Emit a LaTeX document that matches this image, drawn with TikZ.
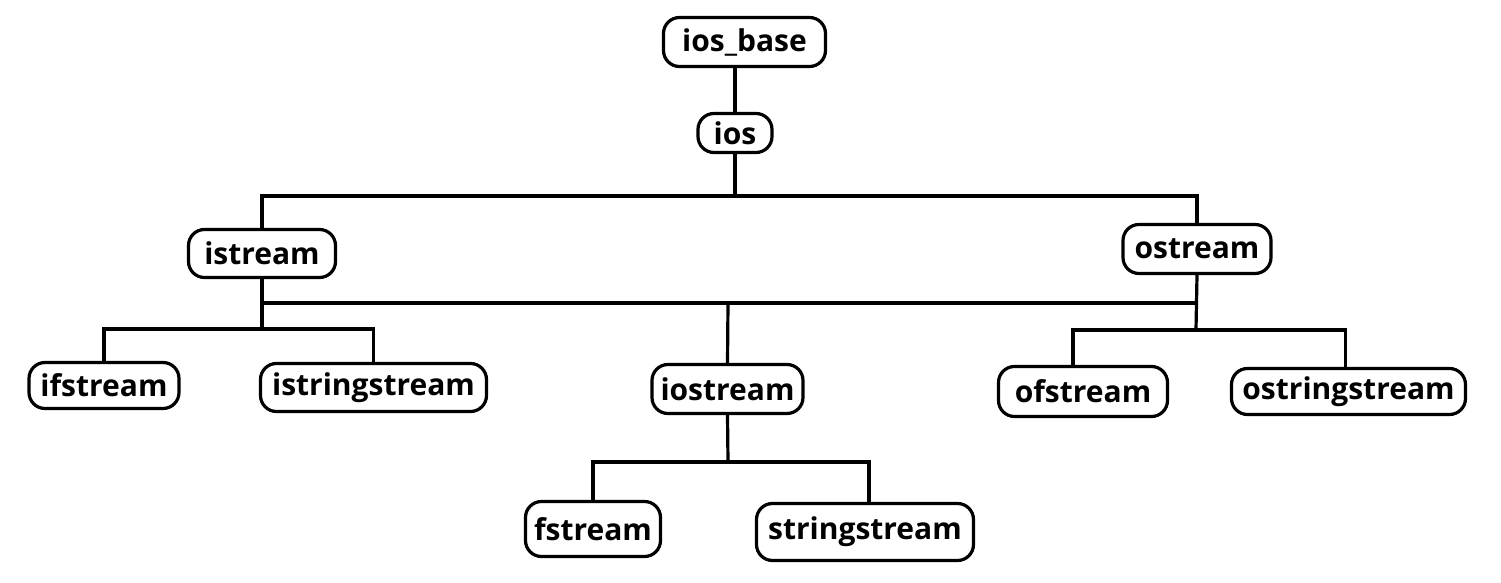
\documentclass[tikz,border=0pt]{standalone}
\usepackage{fontspec}
\setmainfont{Open Sans}
\begin{document}
\begin{tikzpicture}[x=0.5pt,y=-0.5pt,
  box/.style={draw, line width=1.6pt, rounded corners=8pt, inner sep=0pt,
    font=\bfseries\fontsize{15}{18}\selectfont},
  link/.style={line width=1.6pt}]
\useasboundingbox (0,0) rectangle (1501,583);
% nodes
\node[box, minimum width=81pt, minimum height=24.5pt] (iosbase) at (744.5,42) {ios\_base};
\node[box, minimum width=37pt, minimum height=19.5pt] (ios) at (735,133) {ios};
\node[box, minimum width=73.5pt, minimum height=24pt] (istream) at (262,253.5) {istream};
\node[box, minimum width=74pt, minimum height=24.5pt] (ostream) at (1197,249) {ostream};
\node[box, minimum width=75pt, minimum height=23pt] (ifstream) at (104,385.5) {ifstream};
\node[box, minimum width=113pt, minimum height=24pt] (istringstream) at (373.5,387.5) {istringstream};
\node[box, minimum width=75.5pt, minimum height=24.5pt] (iostream) at (727.5,389) {iostream};
\node[box, minimum width=84.5pt, minimum height=25pt] (ofstream) at (1083,391.5) {ofstream};
\node[box, minimum width=117pt, minimum height=23pt] (ostringstream) at (1348.5,391.5) {ostringstream};
\node[box, minimum width=67.5pt, minimum height=27.5pt] (fstream) at (593,529) {fstream};
\node[box, minimum width=108.5pt, minimum height=28.5pt] (stringstream) at (865,532) {stringstream};
% bus points
\coordinate (b1) at (735,196);
\coordinate (b2) at (728,303);
\coordinate (isub) at (262,329);
\coordinate (osub) at (1196,330);
\coordinate (iosub) at (728,462);
% connectors
\draw[link] (iosbase.south -| ios.north) -- (ios.north);
\draw[link] (ios.south) -- (b1);
\draw[link] (istream.north) |- (b1) -| (ostream.north);
\draw[link] (istream.south) -- (isub);
\draw[link] (ostream.south) -- (osub);
\draw[link] (isub |- b2) -- (osub |- b2);
\draw[link] (b2) -- (iostream.north);
\draw[link] (ifstream.north) |- (isub) -| (istringstream.north);
\draw[link] ([xshift=-5pt]ofstream.north) |- (osub) -| ([xshift=-1.5pt]ostringstream.north);
\draw[link] (iostream.south) -- (iosub);
\draw[link] (fstream.north) |- (iosub) -| ([xshift=2pt]stringstream.north);
\end{tikzpicture}
\end{document}
